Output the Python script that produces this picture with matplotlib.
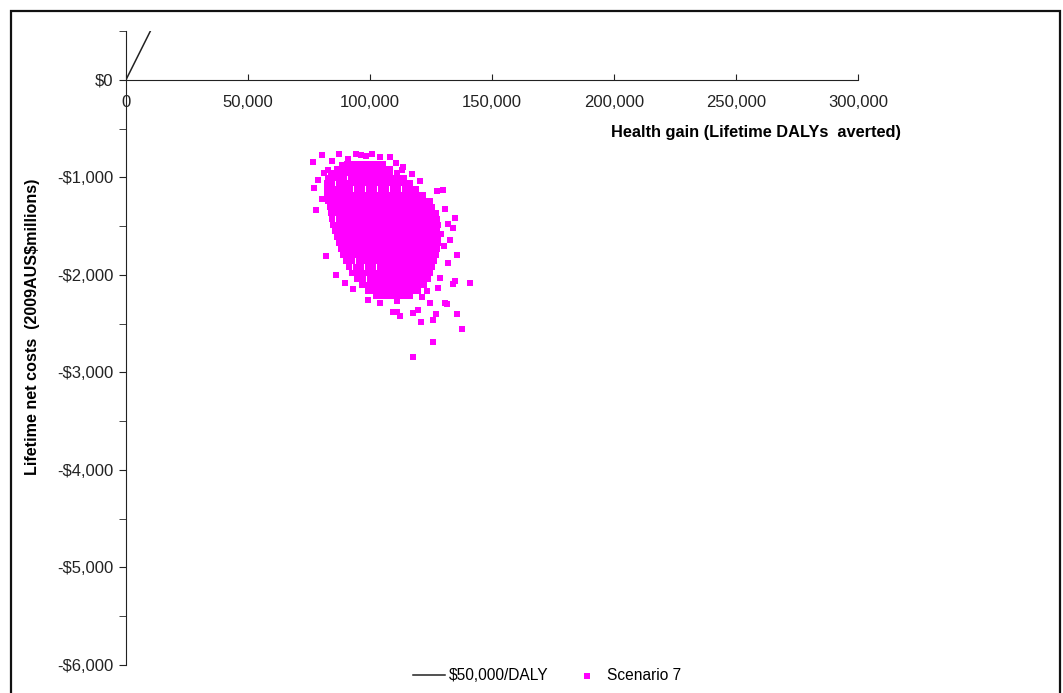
import numpy as np
import matplotlib.pyplot as plt
from matplotlib.patches import Rectangle
from matplotlib.ticker import MultipleLocator, FuncFormatter

plt.rcParams['font.family'] = ['Liberation Sans', 'DejaVu Sans']

# threshold line: $50,000 per DALY averted (costs in $ millions)
wtp_daly = [0, 10000]
wtp_cost = [0, 500]

# scenario 7 cloud, dense core read row by row: (cost $M, [DALYs averted, thousands])
core_rows = [
    (-860, [90.5, 93.1, 95.6, 97.9, 100.5, 102.7, 105.2]),
    (-910, [86.4, 88.8, 91.4, 93.7, 96.3, 98.6, 101.2, 103.5, 106.1, 108.4]),
    (-960, [84, 86.5, 88.8, 91.4, 93.7, 96.3, 98.6, 101.2, 103.5, 106.1, 108.4, 111]),
    (-1010, [82.9, 84.7, 87.1, 89.4, 92.1, 94.3, 96.9, 99.2, 101.8, 104.1, 106.7, 108.9, 111.6, 113.8]),
    (-1060, [82.2, 84.4, 87.1, 89.3, 92, 94.2, 96.9, 99.1, 101.7, 104, 106.6, 108.9, 111.5, 113.8, 116.4]),
    (-1116, [82.3, 84.8, 87.1, 89.7, 92, 94.6, 96.9, 99.5, 101.8, 104.4, 106.7, 109.3, 111.6, 114.2, 116.5, 119]),
    (-1178, [82.5, 84.9, 87.5, 89.8, 92.4, 94.7, 97.3, 99.6, 102.2, 104.5, 107.1, 109.4, 112, 114.3, 116.9, 119.2, 121.8]),
    (-1239, [82.9, 85.4, 87.7, 90.3, 92.6, 95.2, 97.5, 100.1, 102.4, 105, 107.3, 109.9, 112.2, 114.8, 117.1, 119.7, 122, 124.4]),
    (-1300, [83.7, 86.2, 88.5, 91.1, 93.4, 96, 98.3, 100.9, 103.2, 105.8, 108.1, 110.7, 113, 115.6, 117.9, 120.5, 122.8, 125.3]),
    (-1362, [84.1, 86.5, 89.1, 91.4, 94, 96.3, 98.9, 101.2, 103.8, 106.1, 108.7, 111, 113.6, 115.9, 118.5, 120.8, 123.4, 125.7, 127]),
    (-1423, [84.5, 87.1, 89.3, 92, 94.2, 96.9, 99.1, 101.8, 104, 106.7, 108.9, 111.6, 113.8, 116.5, 118.7, 121.4, 123.6, 126.1, 127.4]),
    (-1485, [84.9, 87.3, 89.9, 92.2, 94.8, 97.1, 99.7, 102, 104.6, 106.9, 109.5, 111.8, 114.4, 116.7, 119.3, 121.6, 124.2, 126.5, 127.9]),
    (-1546, [85.7, 88.1, 90.7, 93, 95.6, 97.9, 100.5, 102.8, 105.4, 107.7, 110.3, 112.6, 115.2, 117.5, 120.1, 122.4, 125, 127.4]),
    (-1608, [86.6, 89.1, 91.4, 94, 96.3, 98.9, 101.2, 103.8, 106.1, 108.7, 111, 113.6, 115.9, 118.5, 120.8, 123.4, 125.7, 127.8]),
    (-1669, [87.4, 89.8, 92.4, 94.7, 97.3, 99.6, 102.2, 104.5, 107.1, 109.4, 112, 114.3, 116.9, 119.2, 121.8, 124.1, 126.6, 127.8]),
    (-1731, [88.2, 90.6, 93.2, 95.5, 98.1, 100.4, 103, 105.3, 107.9, 110.2, 112.8, 115.1, 117.7, 120, 122.6, 124.9, 127.3]),
    (-1792, [89, 91.4, 94, 96.3, 98.9, 101.2, 103.8, 106.1, 108.7, 111, 113.6, 115.9, 118.5, 120.8, 123.4, 125.7, 126.9]),
    (-1853, [90.3, 92.7, 95.3, 97.6, 100.2, 102.5, 105.1, 107.4, 110, 112.3, 114.9, 117.2, 119.8, 122.1, 124.7, 126.1]),
    (-1915, [91.5, 94.1, 96.3, 99, 101.2, 103.9, 106.1, 108.8, 111, 113.7, 115.9, 118.6, 120.8, 123.5, 125.3]),
    (-1976, [92.7, 95.1, 97.7, 100, 102.6, 104.9, 107.5, 109.8, 112.4, 114.7, 117.3, 119.6, 122.2, 124.5]),
    (-2038, [94.8, 97.2, 99.8, 102.1, 104.7, 107, 109.6, 111.9, 114.5, 116.8, 119.4, 121.7, 123.7]),
    (-2099, [96.8, 99.2, 101.8, 104.1, 106.7, 109, 111.6, 113.9, 116.5, 118.8, 121.2, 122]),
    (-2161, [99.3, 101.7, 104.3, 106.6, 109.2, 111.5, 114.1, 116.4, 118.9, 119.6]),
    (-2222, [102.5, 104.9, 107.5, 109.8, 112.4, 114.7, 116.3]),
]

# scattered points around the core (DALYs averted, thousands / cost $M)
edge_daly = [76.6, 80.3, 87.3, 94.3, 96.3, 104.1, 108.2, 78.7, 77.0, 80.3,
             77.9, 82.8, 84.4, 84.4, 82.0, 113.5, 117.2, 120.5, 127.4, 129.9,
             123.4, 130.7, 134.8, 132.0, 134.0, 132.8, 135.6, 132.0, 128.7, 134.8,
             141.0, 134.0, 127.9, 123.4, 130.7, 124.6, 131.5, 127.0, 135.6, 125.8,
             120.9, 137.7, 125.8, 117.6, 119.7, 117.6, 112.3, 111.1, 109.4, 111.1,
             104.1, 99.2, 93.0, 89.7, 98.5, 91.0, 100.8, 88.5, 110.5, 113.2,
             81.0, 129.0, 130.5, 86.0, 121.5]
edge_cost = [-840, -768, -758, -758, -768, -788, -788, -1024, -1106, -1219,
             -1331, -922, -829, -1372, -1802, -891, -963, -1034, -1137, -1126,
             -1352, -1321, -1413, -1475, -1516, -1638, -1792, -1874, -2028, -2058,
             -2079, -2089, -2130, -2161, -2284, -2284, -2294, -2406, -2406, -2458,
             -2488, -2560, -2693, -2847, -2365, -2396, -2417, -2386, -2376, -2273,
             -2284, -2263, -2140, -2079, -778, -808, -760, -870, -850, -930,
             -960, -1580, -1700, -2000, -2230]

sc_daly = [x * 1000 for c, xs in core_rows for x in xs] + [x * 1000 for x in edge_daly]
sc_cost = [c for c, xs in core_rows for x in xs] + edge_cost

fig = plt.figure(figsize=(10.63, 6.93), dpi=100)
ax = fig.add_axes([126 / 1063, 1 - 665 / 693, 732 / 1063, 634 / 693])

ax.plot(wtp_daly, wtp_cost, color='#222222', lw=1.1, label='$50,000/DALY')
ax.scatter(sc_daly, sc_cost, marker='s', s=20, color='#FF00FF', linewidths=0,
           label='Scenario 7', zorder=3)

ax.set_xlim(0, 300000)
ax.set_ylim(-6000, 500)
ax.spines['top'].set_visible(False)
ax.spines['right'].set_visible(False)
ax.spines['bottom'].set_position(('data', 0))
ax.spines['bottom'].set_color('#222222')
ax.spines['left'].set_color('#222222')

ax.xaxis.set_major_locator(MultipleLocator(50000))
ax.xaxis.set_major_formatter(FuncFormatter(lambda v, p: '{:,.0f}'.format(v)))
ax.yaxis.set_major_locator(MultipleLocator(1000))
ax.yaxis.set_minor_locator(MultipleLocator(500))
ax.yaxis.set_major_formatter(FuncFormatter(
    lambda v, p: '$0' if v == 0 else ('-$' if v < 0 else '$') + '{:,.0f}'.format(abs(v))))
ax.tick_params(axis='x', direction='in', length=4, labelsize=12, colors='#222222', pad=11)
ax.tick_params(axis='y', which='both', direction='out', length=5, labelsize=12,
               colors='#222222', pad=4)

fig.text(756 / 1063, 1 - 133 / 693, 'Health gain (Lifetime DALYs  averted)',
         ha='center', va='center', fontsize=11.8, fontweight='bold')
fig.text(33 / 1063, 1 - 327 / 693, 'Lifetime net costs  (2009AUS$millions)',
         ha='center', va='center', rotation=90, fontsize=11.6, fontweight='bold')

fig.legend(loc='center', bbox_to_anchor=(547 / 1063, 1 - 676 / 693), ncol=2,
           frameon=False, fontsize=11.2, handlelength=2.05, handletextpad=0.3,
           columnspacing=1.4, markerscale=1.0)

fig.patches.append(Rectangle((11 / 1063, -0.05), 1049 / 1063, 1 - 11 / 693 + 0.05,
                             transform=fig.transFigure, fill=False,
                             edgecolor='#111111', lw=1.6))

fig.savefig('out.png', dpi=100)
